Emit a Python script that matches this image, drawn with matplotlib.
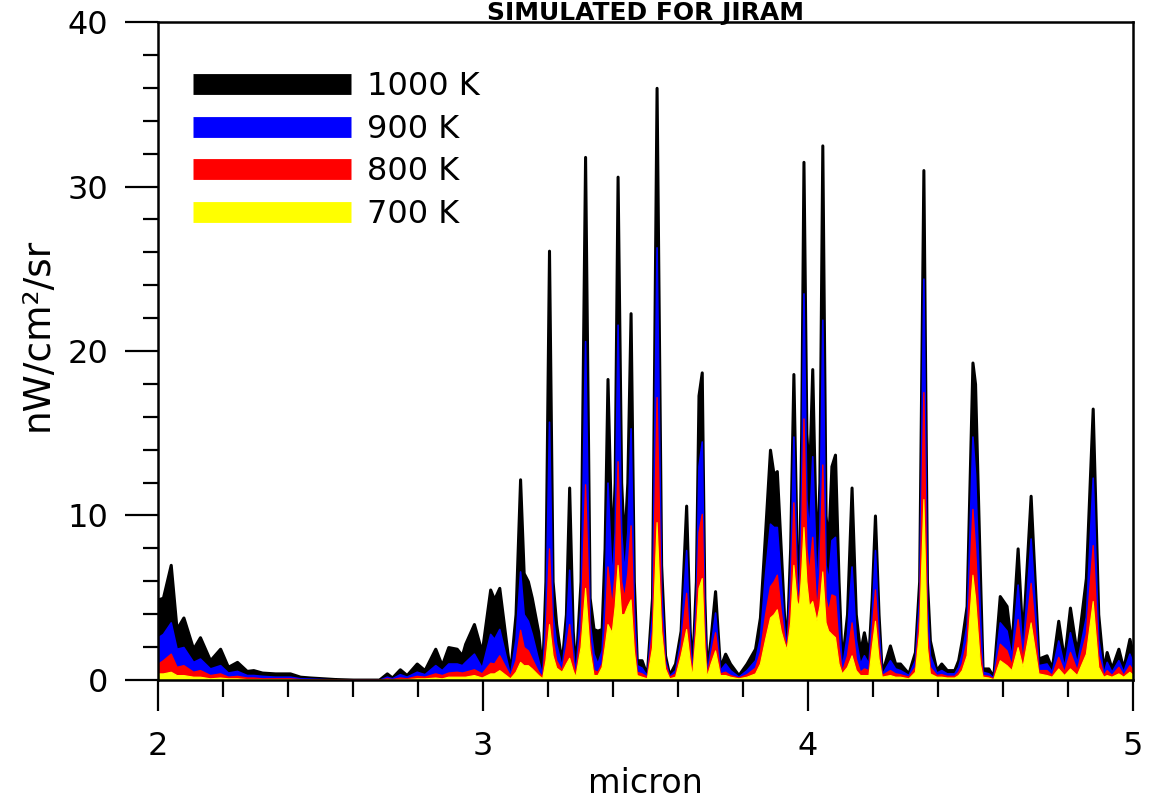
import matplotlib
matplotlib.use("Agg")
import matplotlib.pyplot as plt
from matplotlib.lines import Line2D
from matplotlib.ticker import MultipleLocator
import numpy as np

# wavelength grid (micron)
micron = [
    2.000, 2.015, 2.039, 2.057, 2.078, 2.108, 2.129, 2.160, 2.191, 2.215, 2.243, 2.273,
    2.293, 2.320, 2.360, 2.406, 2.437, 2.468, 2.510, 2.550, 2.600, 2.680, 2.704, 2.720,
    2.744, 2.765, 2.796, 2.820, 2.853, 2.873, 2.893, 2.919, 2.935, 2.945, 2.972, 2.996,
    3.022, 3.034, 3.050, 3.083, 3.100, 3.114, 3.125, 3.138, 3.150, 3.170,
    3.182, 3.192, 3.203, 3.214, 3.225, 3.242, 3.255, 3.265, 3.276, 3.284,
    3.300, 3.314, 3.328, 3.340, 3.352, 3.365, 3.374, 3.383, 3.396, 3.405,
    3.414, 3.425, 3.434, 3.444, 3.454, 3.464, 3.473, 3.488, 3.504,
    3.520, 3.534, 3.548, 3.560, 3.573, 3.591, 3.608, 3.625, 3.636, 3.643,
    3.655, 3.663, 3.673, 3.681, 3.688, 3.700, 3.714, 3.729, 3.745, 3.760,
    3.786, 3.811, 3.837, 3.852, 3.868, 3.883, 3.894, 3.904, 3.916, 3.926,
    3.934,
    3.945, 3.955, 3.965, 3.972, 3.979, 3.986, 3.995, 4.003, 4.013, 4.026,
    4.035, 4.044, 4.054, 4.062, 4.072, 4.083, 4.094, 4.104, 4.120, 4.134,
    4.147, 4.160, 4.172, 4.186, 4.196, 4.206, 4.217, 4.227, 4.252, 4.268,
    4.283, 4.309, 4.329, 4.342, 4.355, 4.366, 4.375, 4.395, 4.410,
    4.427, 4.450, 4.462, 4.473, 4.488, 4.506, 4.514, 4.529, 4.537, 4.555,
    4.570, 4.590, 4.611, 4.626, 4.645, 4.660, 4.685, 4.709, 4.734, 4.750,
    4.770, 4.788, 4.806, 4.827, 4.855, 4.876, 4.893, 4.909, 4.919, 4.934,
    4.955, 4.970, 4.989, 5.000,
]

# radiance nW/cm2/sr for each temperature
k1000 = [
    4.9, 5.0, 7.0, 3.1, 3.8, 1.9, 2.6, 1.2, 1.9, 0.8, 1.1, 0.55,
    0.6, 0.45, 0.4, 0.4, 0.2, 0.15, 0.1, 0.05, 0.02, 0.02, 0.4, 0.15,
    0.65, 0.3, 1.0, 0.6, 1.9, 0.9, 2.0, 1.9, 1.5, 2.2, 3.4, 1.7,
    5.5, 4.9, 5.6, 0.4, 4.0, 12.2, 6.5, 6.0, 5.0, 2.9,
    0.4, 6.0, 26.1, 6.0, 3.4, 1.0, 4.0, 11.7, 3.0, 0.5,
    6.0, 31.8, 5.0, 3.1, 3.0, 3.1, 8.0, 18.3, 7.5, 12.0,
    30.6, 12.0, 8.1, 12.0, 22.3, 6.0, 1.2, 1.2, 0.3,
    5.0, 36.0, 7.0, 1.5, 0.3, 1.0, 3.0, 10.6, 3.0, 0.5,
    6.0, 17.3, 18.7, 5.0, 0.5, 2.5, 5.4, 0.75, 1.6, 1.0,
    0.3, 1.0, 1.9, 3.8, 9.0, 14.0, 12.5, 12.7, 8.0, 4.0,
    2.0,
    8.0, 18.6, 8.0, 5.0, 15.0, 31.5, 15.0, 12.0, 18.9, 6.9,
    12.0, 32.5, 10.0, 8.1, 13.0, 13.7, 6.0, 1.0, 4.0, 11.7,
    4.0, 1.7, 2.9, 1.5, 5.0, 10.0, 4.0, 0.4, 2.1, 1.0,
    1.0, 0.4, 1.7, 6.0, 31.0, 6.0, 2.4, 0.6, 1.0,
    0.6, 0.6, 1.2, 2.4, 4.5, 19.3, 18.0, 6.5, 0.7, 0.7,
    0.2, 5.1, 4.5, 2.0, 8.0, 2.4, 11.2, 1.3, 1.5, 0.7,
    3.6, 1.2, 4.4, 1.6, 6.2, 16.5, 4.0, 0.6, 1.7, 0.7,
    1.9, 0.7, 2.5, 1.6,
]

k900 = [
    2.6, 2.8, 3.5, 1.9, 2.0, 1.1, 1.3, 0.7, 0.9, 0.45, 0.55, 0.3,
    0.3, 0.25, 0.2, 0.2, 0.1, 0.08, 0.05, 0.03, 0.01, 0.01, 0.2, 0.1,
    0.35, 0.2, 0.5, 0.35, 0.9, 0.6, 1.0, 1.0, 0.9, 1.1, 1.6, 0.75,
    2.8, 2.5, 3.1, 0.3, 2.5, 6.6, 4.0, 3.6, 2.8, 1.2,
    0.3, 4.0, 15.7, 4.0, 2.2, 0.8, 3.0, 6.7, 2.0, 0.4,
    4.5, 20.6, 3.5, 1.6, 1.0, 1.8, 5.0, 12.0, 6.0, 9.0,
    21.6, 9.0, 6.5, 9.0, 15.3, 4.5, 0.9, 0.75, 0.25,
    4.0, 26.3, 5.5, 1.2, 0.25, 0.6, 2.5, 7.9, 2.4, 0.4,
    5.0, 13.0, 14.5, 4.0, 0.4, 2.0, 4.1, 0.6, 1.0, 0.6,
    0.2, 0.6, 1.2, 2.6, 6.5, 9.5, 9.3, 9.3, 6.0, 3.3,
    1.95,
    6.5, 14.8, 6.5, 4.8, 12.0, 23.5, 11.0, 9.0, 13.6, 5.5,
    9.0, 21.9, 7.0, 6.0, 8.5, 8.7, 4.0, 0.7, 2.8, 6.9,
    2.5, 1.0, 1.5, 1.0, 4.0, 7.9, 3.0, 0.35, 1.2, 0.7,
    0.6, 0.3, 1.2, 5.0, 24.4, 4.5, 1.5, 0.45, 0.6,
    0.4, 0.4, 0.8, 1.6, 3.4, 14.8, 12.5, 4.0, 0.5, 0.4,
    0.15, 3.5, 3.0, 1.4, 5.8, 1.7, 8.6, 0.9, 1.0, 0.5,
    2.4, 0.8, 2.9, 1.0, 3.85, 12.3, 2.5, 0.4, 1.1, 0.5,
    1.2, 0.5, 1.6, 1.0,
]

k800 = [
    1.0, 1.2, 1.6, 0.8, 0.9, 0.5, 0.6, 0.3, 0.4, 0.2, 0.25, 0.15,
    0.15, 0.1, 0.1, 0.1, 0.05, 0.04, 0.03, 0.02, 0.01, 0.01, 0.1, 0.05,
    0.15, 0.1, 0.25, 0.2, 0.4, 0.3, 0.45, 0.5, 0.45, 0.5, 0.65, 0.4,
    1.05, 1.0, 1.5, 0.25, 1.2, 3.05, 2.0, 1.8, 1.3, 0.5,
    0.2, 2.5, 8.0, 2.5, 1.2, 0.6, 2.0, 3.4, 1.2, 0.3,
    3.0, 11.9, 2.5, 0.6, 0.5, 1.0, 3.0, 6.9, 4.5, 6.5,
    13.3, 6.0, 5.0, 6.5, 9.4, 3.0, 0.5, 0.4, 0.2,
    3.0, 17.2, 4.0, 1.0, 0.2, 0.4, 2.0, 5.3, 1.8, 0.3,
    4.0, 9.0, 10.1, 3.0, 0.3, 1.5, 2.9, 0.4, 0.5, 0.3,
    0.15, 0.35, 0.75, 1.7, 4.0, 5.7, 6.0, 6.4, 4.2, 2.7,
    1.9,
    5.0, 10.8, 5.5, 4.6, 9.0, 15.9, 8.0, 6.5, 8.7, 4.2,
    6.5, 13.1, 5.0, 4.2, 5.2, 5.1, 2.0, 0.5, 1.5, 3.5,
    1.3, 0.5, 0.7, 0.6, 3.0, 5.5, 2.0, 0.3, 0.6, 0.4,
    0.35, 0.2, 0.8, 4.0, 17.5, 3.0, 0.8, 0.3, 0.35,
    0.25, 0.25, 0.5, 1.0, 2.4, 10.4, 8.0, 2.0, 0.3, 0.25,
    0.1, 2.2, 1.8, 0.9, 3.7, 1.2, 5.9, 0.6, 0.6, 0.3,
    1.4, 0.5, 1.7, 0.6, 2.8, 8.2, 1.5, 0.3, 0.6, 0.3,
    0.8, 0.3, 0.9, 0.6,
]

k700 = [
    0.4, 0.4, 0.5, 0.3, 0.3, 0.2, 0.2, 0.1, 0.15, 0.1, 0.1, 0.05,
    0.05, 0.05, 0.05, 0.05, 0.02, 0.02, 0.01, 0.01, 0.0, 0.0, 0.05, 0.02,
    0.05, 0.05, 0.1, 0.1, 0.15, 0.1, 0.2, 0.2, 0.2, 0.2, 0.3, 0.15,
    0.4, 0.4, 0.6, 0.1, 0.5, 1.1, 0.9, 0.9, 0.7, 0.3,
    0.1, 1.2, 3.4, 1.5, 0.75, 0.5, 1.0, 1.35, 0.6, 0.2,
    2.0, 5.6, 1.8, 0.3, 0.3, 0.8, 2.0, 3.4, 2.9, 4.5,
    7.0, 4.0, 4.0, 4.5, 4.9, 1.8, 0.3, 0.2, 0.1,
    2.0, 9.6, 3.0, 0.7, 0.1, 0.2, 1.5, 3.1, 1.2, 0.2,
    3.0, 5.6, 6.2, 2.0, 0.2, 1.0, 1.8, 0.3, 0.3, 0.2,
    0.1, 0.2, 0.4, 1.0, 2.5, 3.8, 4.0, 4.3, 3.0, 2.3,
    1.85,
    3.5, 7.0, 4.8, 4.5, 6.5, 9.3, 6.0, 4.5, 4.8, 3.6,
    4.5, 6.6, 3.5, 3.0, 2.8, 2.6, 1.0, 0.4, 0.8, 1.5,
    0.6, 0.3, 0.3, 0.3, 2.0, 3.6, 1.3, 0.2, 0.3, 0.2,
    0.2, 0.1, 0.5, 3.0, 11.0, 2.0, 0.4, 0.2, 0.2,
    0.15, 0.15, 0.3, 0.6, 1.5, 6.4, 5.0, 1.0, 0.2, 0.15,
    0.05, 1.2, 0.9, 0.6, 2.0, 0.8, 3.5, 0.4, 0.3, 0.2,
    0.7, 0.3, 0.7, 0.3, 1.6, 4.8, 0.8, 0.2, 0.3, 0.2,
    0.4, 0.2, 0.5, 0.3,
]

labels = ["1000 K", "900 K", "800 K", "700 K"]
colors = ["#000000", "#0000ff", "#ff0000", "#ffff00"]
edge_widths = [2.2, 1.2, 1.0, 0.8]

plt.rcParams["font.family"] = ["DejaVu Sans"]

fig = plt.figure(figsize=(11.52, 8.01), dpi=100)
ax = fig.add_axes([0.1372, 0.1511, 0.8463, 0.8214])

x = np.array(micron)
for vals, col, lw in zip([k1000, k900, k800, k700], colors, edge_widths):
    ax.fill_between(x, 0, np.array(vals), facecolor=col, edgecolor=col,
                    linewidth=lw, zorder=2)

ax.set_xlim(2, 5)
ax.set_ylim(0, 40)
ax.xaxis.set_major_locator(MultipleLocator(1))
ax.xaxis.set_minor_locator(MultipleLocator(0.2))
ax.yaxis.set_major_locator(MultipleLocator(10))
ax.yaxis.set_minor_locator(MultipleLocator(2))

for s in ax.spines.values():
    s.set_linewidth(1.8)
    s.set_zorder(3)
ax.tick_params(which="major", direction="out", width=1.6, labelsize=23)
ax.tick_params(axis="y", which="major", length=24, pad=12)
ax.tick_params(axis="x", which="major", length=22, pad=15)
ax.tick_params(axis="y", which="minor", direction="out", length=11, width=1.6)
ax.tick_params(axis="x", which="minor", direction="out", length=12, width=1.6)

ax.set_xlabel("micron", fontsize=24)
ax.set_ylabel("nW/cm²/sr", fontsize=27)
ax.xaxis.set_label_coords(0.5, -0.133)
ax.yaxis.set_label_coords(-0.105, 0.526)

handles = [Line2D([0], [0], color=c, lw=15, solid_capstyle="butt") for c in colors]
ax.legend(handles, labels, loc="upper left", bbox_to_anchor=(0.036, 0.925),
          frameon=False, fontsize=23, handlelength=4.95, handletextpad=0.5,
          labelspacing=0.36, borderpad=0, borderaxespad=0)

# title squeezed into the strip above the frame
fig.text(0.56, 0.9755, "SIMULATED FOR JIRAM", ha="center", va="baseline",
         fontsize=18, fontweight="bold")

fig.savefig("out.png", dpi=100)
